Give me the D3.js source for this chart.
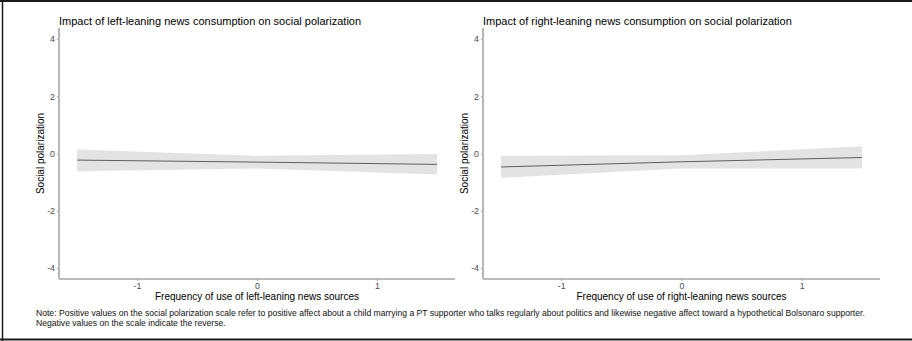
<!DOCTYPE html>
<html>
<head>
<meta charset="utf-8">
<script src="https://cdn.jsdelivr.net/npm/d3@7"></script>
<style>
  html, body { margin: 0; padding: 0; background: #fff; }
  svg { display: block; font-family: "Liberation Sans", Arial, sans-serif; }
</style>
</head>
<body>
<svg id="chart" width="912" height="341"></svg>
<script>
// ---- data ----
const panelTitles = [
  "Impact of left-leaning news consumption on social polarization",
  "Impact of right-leaning news consumption on social polarization"
];
const xTitles = [
  "Frequency of use of left-leaning news sources",
  "Frequency of use of right-leaning news sources"
];
const yTitle = "Social polarization";
const xValues = [-1.5, 0, 1.5];
const leftFit = [-0.23, -0.30, -0.38];
const leftLower = [-0.62, -0.52, -0.73];
const leftUpper = [0.14, -0.08, -0.02];
const rightFit = [-0.47, -0.29, -0.14];
const rightLower = [-0.85, -0.52, -0.52];
const rightUpper = [-0.08, -0.06, 0.25];
const xTicks = [-1, 0, 1];
const yTicks = [-4, -2, 0, 2, 4];
const xDomain = [-1.65, 1.65];
const yDomain = [-4.38, 4.38];
const noteLines = [
  "Note: Positive values on the social polarization scale refer to positive affect about a child marrying a PT supporter who talks regularly about politics and likewise negative affect toward a hypothetical Bolsonaro supporter.",
  "Negative values on the scale indicate the reverse."
];

const svg = d3.select("#chart");

// outer frame
svg.append("line").attr("x1", 0).attr("x2", 912).attr("y1", 1).attr("y2", 1)
  .attr("stroke", "#1a1a1a").attr("stroke-width", 2);
svg.append("line").attr("x1", 0).attr("x2", 912).attr("y1", 339.5).attr("y2", 339.5)
  .attr("stroke", "#1a1a1a").attr("stroke-width", 2);
svg.append("line").attr("x1", 2.5).attr("x2", 2.5).attr("y1", 0).attr("y2", 341)
  .attr("stroke", "#1a1a1a").attr("stroke-width", 1.5);

const panels = [
  { left: 59, right: 455, fit: leftFit, lo: leftLower, hi: leftUpper },
  { left: 483, right: 880, fit: rightFit, lo: rightLower, hi: rightUpper }
];
const plotTop = 28, plotBottom = 279;
const fmt = d => String(d);

panels.forEach((p, i) => {
  const x = d3.scaleLinear().domain(xDomain).range([p.left, p.right]);
  const y = d3.scaleLinear().domain(yDomain).range([plotBottom, plotTop]);
  const g = svg.append("g");

  const rows = xValues.map((v, k) => ({ x: v, fit: p.fit[k], lo: p.lo[k], hi: p.hi[k] }));

  g.append("path").datum(rows)
    .attr("d", d3.area().x(d => x(d.x)).y0(d => y(d.lo)).y1(d => y(d.hi)))
    .attr("fill", "#e3e3e3");
  g.append("path").datum(rows)
    .attr("d", d3.line().x(d => x(d.x)).y(d => y(d.fit)))
    .attr("fill", "none").attr("stroke", "#5e5e5e").attr("stroke-width", 1);

  // axes
  const xAxis = g.append("g").attr("transform", `translate(0,${plotBottom})`)
    .call(d3.axisBottom(x).tickValues(xTicks).tickSize(2).tickPadding(2).tickFormat(fmt));
  const yAxis = g.append("g").attr("transform", `translate(${p.left},0)`)
    .call(d3.axisLeft(y).tickValues(yTicks).tickSize(2).tickPadding(2).tickFormat(fmt));
  [xAxis, yAxis].forEach(a => {
    a.select(".domain").attr("stroke", "#a6a6a6").attr("stroke-width", 1.6);
    a.selectAll(".tick line").attr("stroke", "#a6a6a6");
    a.selectAll(".tick text").attr("fill", "#4d4d4d")
      .style("font-size", "8.8px").style("font-family", "Liberation Sans, Arial, sans-serif");
  });
  xAxis.select(".domain").attr("d", `M${p.left},0H${p.right}`);
  yAxis.select(".domain").attr("d", `M0,${plotTop}V${plotBottom}`);

  // titles
  g.append("text").attr("x", p.left).attr("y", 24.5)
    .style("font-size", "11px").attr("fill", "#000").text(panelTitles[i]);
  g.append("text").attr("x", (p.left + p.right) / 2).attr("y", 299.5)
    .attr("text-anchor", "middle").style("font-size", "10px").attr("fill", "#000")
    .text(xTitles[i]);
  g.append("text")
    .attr("transform", `translate(${p.left - 15},${(plotTop + plotBottom) / 2}) rotate(-90)`)
    .attr("text-anchor", "middle").style("font-size", "10px").attr("fill", "#000")
    .text(yTitle);
});

svg.selectAll("text.note").data(noteLines).enter().append("text")
  .attr("class", "note").attr("x", 36).attr("y", (d, k) => 316 + k * 10)
  .style("font-size", "8.6px").attr("fill", "#111").text(d => d);
</script>
</body>
</html>
